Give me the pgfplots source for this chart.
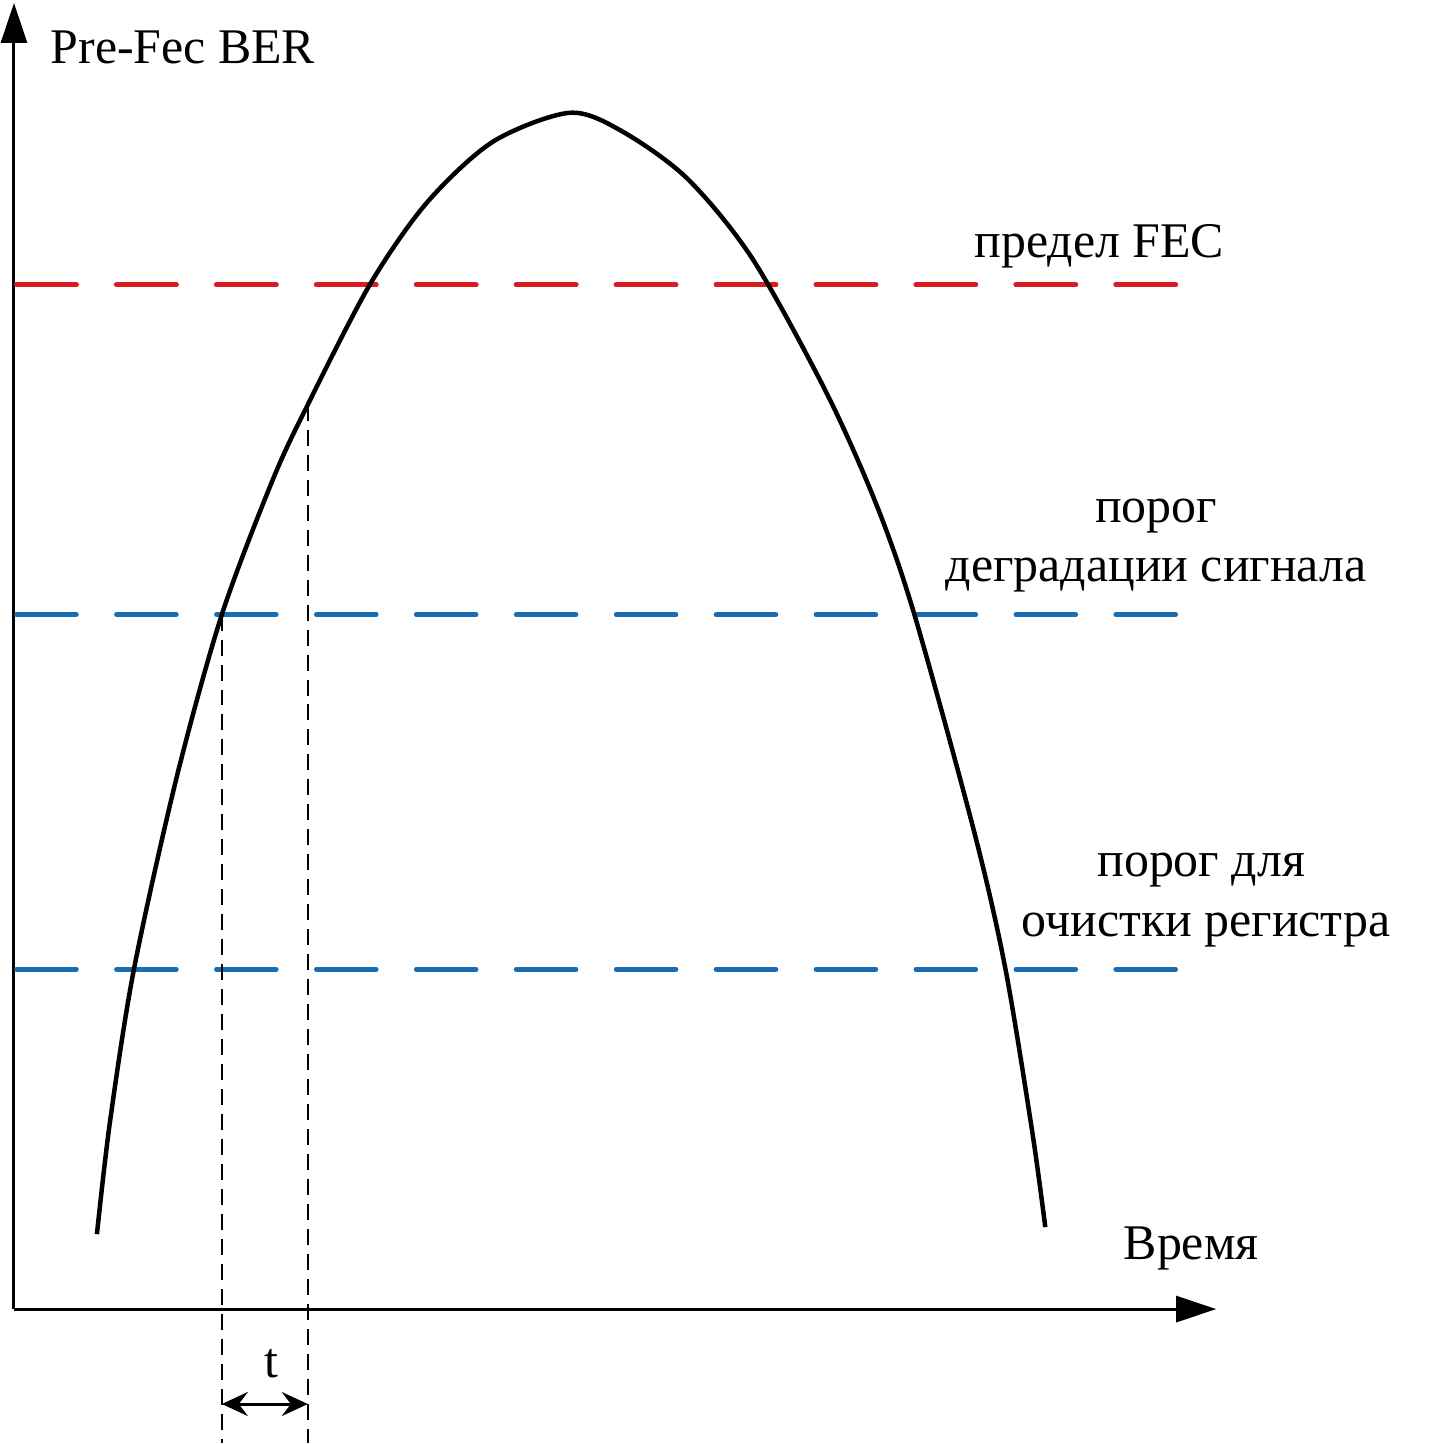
\documentclass[border=0pt]{standalone}
\usepackage{fontspec}
\setmainfont{Liberation Serif}
\usepackage{pgfplots}
\pgfplotsset{compat=1.18}
\usetikzlibrary{arrows.meta}

\definecolor{fecred}{RGB}{218,28,32}
\definecolor{thrblue}{RGB}{24,108,178}

\begin{document}
\begin{tikzpicture}[
    lab/.style={font=\fontsize{14.2}{17}\selectfont, inner sep=0pt, anchor=base}
  ]
  % coordinates: x = pixel column, y = 1444 - pixel row
  \begin{axis}[
      scale only axis,
      width=12.03cm, height=13.07cm,
      xmin=14, xmax=1217,
      ymin=134, ymax=1441,
      axis lines=left,
      axis line style={line width=0.85pt, -{Triangle[length=4mm,width=2.6mm]}},
      ticks=none,
      clip=false
    ]

    % keep the whole canvas
    \path (axis cs:0,0) (axis cs:1431,1444);

    % thresholds
    \addplot[fecred, line width=1.42pt, line cap=round, dash pattern=on 6mm off 4mm]
      coordinates {(16.5,1159) (1177,1159)};
    \addplot[thrblue, line width=1.3pt, line cap=round, dash pattern=on 6mm off 4mm]
      coordinates {(16.5,829) (1177,829)};
    \addplot[thrblue, line width=1.3pt, line cap=round, dash pattern=on 6mm off 4mm]
      coordinates {(16.5,474) (1177,474)};

    % Pre-FEC BER over time
    \addplot[black, line width=1.28pt, smooth] coordinates {
      (97,209) (110,321) (134,474) (177,667) (222,829) (273,964)
      (308,1039) (370,1159) (427,1241) (493,1302) (569,1331)
      (620,1314) (687,1266) (753,1185) (827,1051) (877,939)
      (915,829) (975,611) (1006,475) (1033,311) (1046,216)
    };

    % crossing times
    \addplot[black, line width=0.57pt, dash pattern=on 1.6mm off 0.9mm]
      coordinates {(222,829) (222,0)};
    \addplot[black, line width=0.57pt, dash pattern=on 1.6mm off 0.9mm]
      coordinates {(308,1039) (308,0)};
    \draw[line width=0.85pt, {Stealth[length=2.6mm,width=2.4mm,inset=0.9mm]}-{Stealth[length=2.6mm,width=2.4mm,inset=0.9mm]}]
      (axis cs:222,39) -- (axis cs:308,39);

    % labels
    \node[lab, anchor=base west] at (axis cs:50,1380) {Pre-Fec BER};
    \node[lab] at (axis cs:1100,1186) {предел FEC};
    \node[lab] at (axis cs:1157,921) {порог};
    \node[lab] at (axis cs:1157,862) {деградации сигнала};
    \node[lab] at (axis cs:1202,567) {порог для};
    \node[lab] at (axis cs:1207,507) {очистки регистра};
    \node[lab] at (axis cs:1192,184) {Время};
    \node[lab] at (axis cs:272,66) {t};
  \end{axis}
\end{tikzpicture}
\end{document}
